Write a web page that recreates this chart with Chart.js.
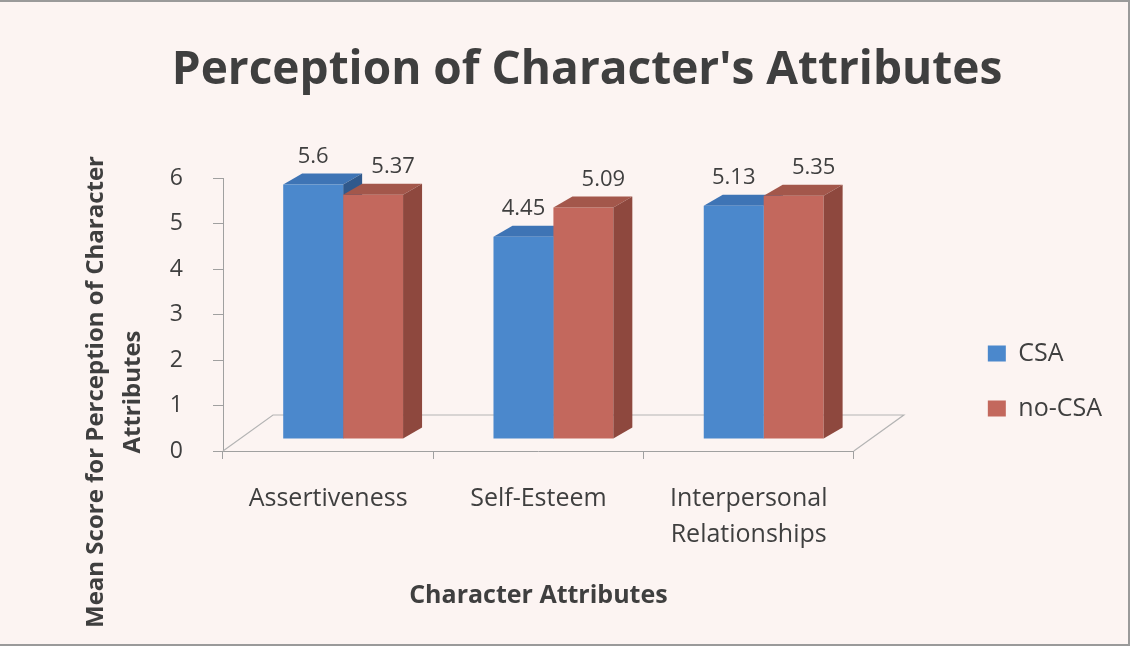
<!DOCTYPE html>
<html>
<head>
<meta charset="utf-8">
<script src="https://cdn.jsdelivr.net/npm/chart.js@4"></script>
<style>
  html, body { margin: 0; padding: 0; background: #ffffff; }
  #wrap { position: absolute; left: 0; top: 0; width: 1128px; height: 642px;
          border-top: 2px solid #9a9a9a; border-right: 2px solid #9a9a9a; border-bottom: 2px solid #9a9a9a;
          background: #fcf4f2; }
</style>
</head>
<body>
<div id="wrap"><canvas id="chart" width="1128" height="642"></canvas></div>
<script>
const categories = ['Assertiveness', 'Self-Esteem', ['Interpersonal', 'Relationships']];
const csaValues = [5.6, 4.45, 5.13];
const noCsaValues = [5.37, 5.09, 5.35];
const yTickMax = 6;
const yTitleLines = ['Mean Score for Perception of Character', 'Attributes'];

const FONT = "'Open Sans', 'DejaVu Sans', sans-serif";
const TEXT = '#3f3f3f';
const DX = 19, DY = 11;          // depth of the bar faces
const SHIFT_X = 15, SHIFT_Y = -12; // bars stand in the middle of the floor
const LABEL_DX = [0, 20];

// [front, top, side]
const faces = [
  ['#4b88cc', '#3e74b5', '#30598c'],
  ['#c3685d', '#a3574b', '#8e483e'],
];

function quad(ctx, pts, color) {
  ctx.beginPath();
  ctx.moveTo(pts[0][0], pts[0][1]);
  for (let i = 1; i < pts.length; i++) ctx.lineTo(pts[i][0], pts[i][1]);
  ctx.closePath();
  ctx.fillStyle = color;
  ctx.fill();
}

function drawDepth(chart, dsIndex) {
  const ctx = chart.ctx;
  chart.getDatasetMeta(dsIndex).data.forEach(bar => {
    const x1 = bar.x - bar.width / 2, x2 = bar.x + bar.width / 2;
    const top = bar.y, base = bar.base;
    quad(ctx, [[x1, top], [x1 + DX, top - DY], [x2 + DX, top - DY], [x2, top]], faces[dsIndex][1]);
    quad(ctx, [[x2, top], [x2 + DX, top - DY], [x2 + DX, base - DY], [x2, base]], faces[dsIndex][2]);
  });
}

const depthPlugin = {
  id: 'depth',
  beforeDatasetsDraw(chart) {
    const ctx = chart.ctx;
    const a = chart.chartArea;
    // floor outline
    ctx.save();
    ctx.strokeStyle = '#b4b4b4';
    ctx.lineWidth = 1.2;
    ctx.beginPath();
    ctx.moveTo(a.left, a.bottom);
    ctx.lineTo(a.left + 50, a.bottom - 36);
    ctx.lineTo(a.right + 50, a.bottom - 36);
    ctx.lineTo(a.right, a.bottom);
    ctx.stroke();
    ctx.restore();
    ctx.save();
    ctx.translate(SHIFT_X, SHIFT_Y);
    drawDepth(chart, 0);
  },
  afterDatasetsDraw(chart) {
    const ctx = chart.ctx;
    drawDepth(chart, 1);
    ctx.font = '22px ' + FONT;
    ctx.fillStyle = TEXT;
    ctx.textAlign = 'center';
    ctx.textBaseline = 'bottom';
    chart.data.datasets.forEach((ds, i) => {
      chart.getDatasetMeta(i).data.forEach((bar, j) => {
        ctx.fillText(String(ds.data[j]), bar.x + LABEL_DX[i], bar.y - DY - 6);
      });
    });
    ctx.restore();
  },
  afterDraw(chart) {
    // y axis title, placed as in the original
    const ctx = chart.ctx;
    ctx.save();
    ctx.font = 'bold 24px ' + FONT;
    ctx.fillStyle = TEXT;
    ctx.textAlign = 'center';
    ctx.textBaseline = 'middle';
    ctx.translate(0, 390);
    ctx.rotate(-Math.PI / 2);
    ctx.fillText(yTitleLines[0], 0, 96);
    ctx.fillText(yTitleLines[1], 0, 133);
    ctx.restore();
  }
};

const bars = [
  { label: 'CSA', data: csaValues, backgroundColor: faces[0][0] },
  { label: 'no-CSA', data: noCsaValues, backgroundColor: faces[1][0] },
];

new Chart(document.getElementById('chart'), {
  type: 'bar',
  data: { labels: categories, datasets: bars },
  options: {
    responsive: false,
    animation: false,
    layout: { padding: { left: 62, right: 16, top: 0, bottom: 33 } },
    datasets: { bar: { categoryPercentage: 0.57, barPercentage: 1.0 } },
    plugins: {
      title: {
        display: true,
        text: "Perception of Character's Attributes",
        color: TEXT,
        font: { family: FONT, size: 46, weight: 'bold' },
        padding: { top: 41, bottom: 80 },
      },
      legend: {
        position: 'right',
        align: 'end',
        fullSize: false,
        labels: {
          color: TEXT,
          font: { family: FONT, size: 25 },
          boxWidth: 18, boxHeight: 16,
          padding: 30,
        },
      },
      tooltip: { enabled: false },
    },
    scales: {
      x: {
        grid: { drawOnChartArea: false, color: '#a0a0a0', tickLength: 8, offset: true },
        border: { color: '#a0a0a0' },
        ticks: { color: TEXT, font: { family: FONT, size: 25, lineHeight: 1.44 }, padding: 22, maxRotation: 0 },
        title: {
          display: true, text: 'Character Attributes', color: TEXT,
          font: { family: FONT, size: 25, weight: 'bold' },
          padding: { top: 6, bottom: 0 },
        },
      },
      y: {
        min: 0, max: yTickMax,
        grid: { drawOnChartArea: false, color: '#a0a0a0', tickLength: 10 },
        border: { color: '#a0a0a0' },
        ticks: { stepSize: 1, color: TEXT, font: { family: FONT, size: 23 }, padding: 30 },
        afterFit(scale) { scale.width = 161; },
      },
      gap: {
        type: 'linear', position: 'right', display: true,
        grid: { display: false }, border: { display: false }, ticks: { display: false },
        afterFit(scale) { scale.width = 104; },
      },
    },
  },
  plugins: [depthPlugin],
});
</script>
</body>
</html>
